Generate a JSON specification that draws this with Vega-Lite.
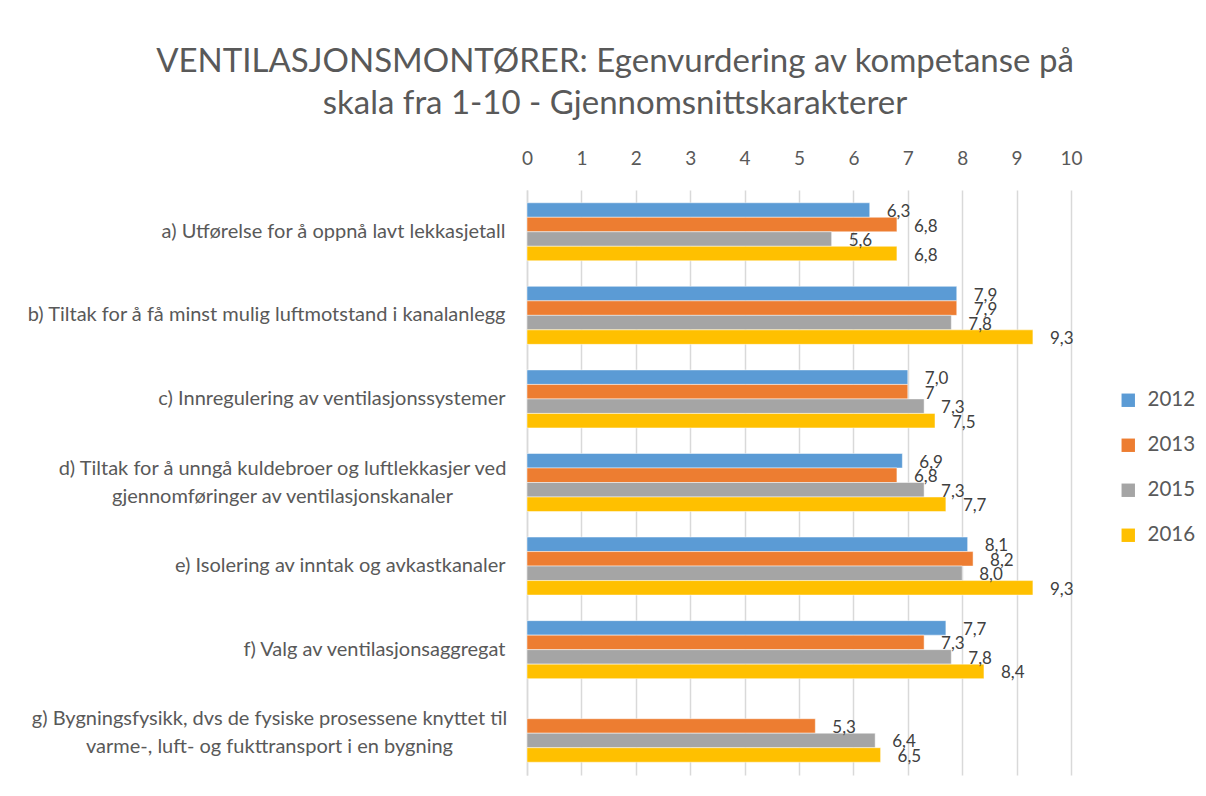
{
  "$schema": "https://vega.github.io/schema/vega-lite/v6.json",
  "width": 544,
  "height": 585,
  "autosize": {"type": "none"},
  "padding": {"left": 527, "top": 190, "right": 135, "bottom": 21},
  "background": "white",
  "title": {
    "text": ["VENTILASJONSMONTØRER: Egenvurdering av kompetanse på", "skala fra 1-10 - Gjennomsnittskarakterer"],
    "font": "Lato",
    "fontSize": 33,
    "fontWeight": "normal",
    "color": "#595959",
    "anchor": "middle",
    "frame": "group",
    "dx": -184,
    "lineHeight": 42,
    "offset": 28
  },
  "data": {
    "values": [
      {"cat": "a) Utførelse for å oppnå lavt lekkasjetall", "year": "2012", "v": 6.3, "lab": "6,3"},
      {"cat": "a) Utførelse for å oppnå lavt lekkasjetall", "year": "2013", "v": 6.8, "lab": "6,8"},
      {"cat": "a) Utførelse for å oppnå lavt lekkasjetall", "year": "2015", "v": 5.6, "lab": "5,6"},
      {"cat": "a) Utførelse for å oppnå lavt lekkasjetall", "year": "2016", "v": 6.8, "lab": "6,8"},
      {"cat": "b) Tiltak for å få minst mulig luftmotstand i kanalanlegg", "year": "2012", "v": 7.9, "lab": "7,9"},
      {"cat": "b) Tiltak for å få minst mulig luftmotstand i kanalanlegg", "year": "2013", "v": 7.9, "lab": "7,9"},
      {"cat": "b) Tiltak for å få minst mulig luftmotstand i kanalanlegg", "year": "2015", "v": 7.8, "lab": "7,8"},
      {"cat": "b) Tiltak for å få minst mulig luftmotstand i kanalanlegg", "year": "2016", "v": 9.3, "lab": "9,3"},
      {"cat": "c) Innregulering av ventilasjonssystemer", "year": "2012", "v": 7.0, "lab": "7,0"},
      {"cat": "c) Innregulering av ventilasjonssystemer", "year": "2013", "v": 7.0, "lab": "7"},
      {"cat": "c) Innregulering av ventilasjonssystemer", "year": "2015", "v": 7.3, "lab": "7,3"},
      {"cat": "c) Innregulering av ventilasjonssystemer", "year": "2016", "v": 7.5, "lab": "7,5"},
      {"cat": "d) Tiltak for å unngå kuldebroer og luftlekkasjer ved|gjennomføringer av ventilasjonskanaler", "year": "2012", "v": 6.9, "lab": "6,9"},
      {"cat": "d) Tiltak for å unngå kuldebroer og luftlekkasjer ved|gjennomføringer av ventilasjonskanaler", "year": "2013", "v": 6.8, "lab": "6,8"},
      {"cat": "d) Tiltak for å unngå kuldebroer og luftlekkasjer ved|gjennomføringer av ventilasjonskanaler", "year": "2015", "v": 7.3, "lab": "7,3"},
      {"cat": "d) Tiltak for å unngå kuldebroer og luftlekkasjer ved|gjennomføringer av ventilasjonskanaler", "year": "2016", "v": 7.7, "lab": "7,7"},
      {"cat": "e) Isolering av inntak og avkastkanaler", "year": "2012", "v": 8.1, "lab": "8,1"},
      {"cat": "e) Isolering av inntak og avkastkanaler", "year": "2013", "v": 8.2, "lab": "8,2"},
      {"cat": "e) Isolering av inntak og avkastkanaler", "year": "2015", "v": 8.0, "lab": "8,0"},
      {"cat": "e) Isolering av inntak og avkastkanaler", "year": "2016", "v": 9.3, "lab": "9,3"},
      {"cat": "f) Valg av ventilasjonsaggregat", "year": "2012", "v": 7.7, "lab": "7,7"},
      {"cat": "f) Valg av ventilasjonsaggregat", "year": "2013", "v": 7.3, "lab": "7,3"},
      {"cat": "f) Valg av ventilasjonsaggregat", "year": "2015", "v": 7.8, "lab": "7,8"},
      {"cat": "f) Valg av ventilasjonsaggregat", "year": "2016", "v": 8.4, "lab": "8,4"},
      {"cat": "g) Bygningsfysikk, dvs de fysiske prosessene knyttet til|varme-, luft- og fukttransport i en bygning", "year": "2013", "v": 5.3, "lab": "5,3"},
      {"cat": "g) Bygningsfysikk, dvs de fysiske prosessene knyttet til|varme-, luft- og fukttransport i en bygning", "year": "2015", "v": 6.4, "lab": "6,4"},
      {"cat": "g) Bygningsfysikk, dvs de fysiske prosessene knyttet til|varme-, luft- og fukttransport i en bygning", "year": "2016", "v": 6.5, "lab": "6,5"}
    ]
  },
  "encoding": {
    "y": {
      "field": "cat",
      "type": "nominal",
      "sort": null,
      "scale": {"paddingInner": 0.306, "paddingOuter": 0.153},
      "axis": {
        "title": null,
        "ticks": false,
        "domain": true,
        "domainColor": "#D9D9D9",
        "domainWidth": 1.5,
        "labelFont": "Lato",
        "labelFontSize": 20,
        "labelColor": "#595959",
        "labelLimit": 700,
        "labelLineHeight": 28,
        "labelExpr": "split(datum.label, '|')",
        "labelAlign": {"condition": {"test": "indexof(datum.label, '|') >= 0", "value": "center"}, "value": "right"},
        "labelOffset": {"condition": {"test": "indexof(datum.label, '|') >= 0", "value": -14}, "value": 0},
        "labelPadding": {"condition": [
          {"test": "indexof(datum.label, 'g)') == 0", "value": 258},
          {"test": "indexof(datum.label, '|') >= 0", "value": 245}
        ], "value": 22}
      }
    },
    "yOffset": {"field": "year", "type": "nominal", "scale": {"domain": ["2012", "2013", "2015", "2016"]}},
    "x": {
      "field": "v",
      "type": "quantitative",
      "scale": {"domain": [0, 10], "nice": false},
      "axis": {
        "orient": "top",
        "title": null,
        "values": [0, 1, 2, 3, 4, 5, 6, 7, 8, 9, 10],
        "labelOverlap": false,
        "domain": false,
        "ticks": false,
        "grid": true,
        "gridColor": "#D9D9D9",
        "gridWidth": 1.5,
        "labelFont": "Lato",
        "labelFontSize": 19,
        "labelColor": "#595959",
        "labelPadding": 22,
        "labelFlush": false
      }
    }
  },
  "layer": [
    {
      "mark": {"type": "bar", "stroke": "white", "strokeWidth": 0.8, "strokeOpacity": 0.6},
      "encoding": {
        "color": {
          "field": "year",
          "type": "nominal",
          "scale": {"domain": ["2012", "2013", "2015", "2016"], "range": ["#5B9BD5", "#ED7D31", "#A5A5A5", "#FFC000"]},
          "legend": {
            "title": null,
            "orient": "none",
            "legendX": 591,
            "legendY": 200,
            "symbolType": "square",
            "symbolSize": 180,
            "symbolStrokeWidth": 0,
            "labelFont": "Lato",
            "labelFontSize": 20.5,
            "labelColor": "#595959",
            "labelOffset": 9,
            "rowPadding": 24
          }
        }
      }
    },
    {
      "mark": {"type": "text", "align": "left", "baseline": "middle", "dx": 17, "dy": 2, "font": "Lato", "fontSize": 17, "color": "#404040"},
      "encoding": {"text": {"field": "lab"}}
    }
  ],
  "config": {"view": {"stroke": null}}
}
